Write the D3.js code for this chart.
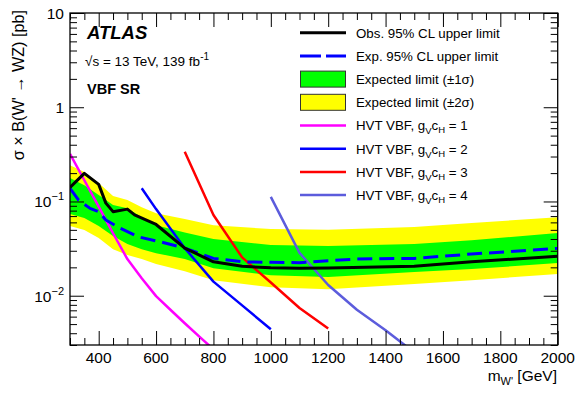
<!DOCTYPE html>
<html><head><meta charset="utf-8">
<script src="https://cdn.jsdelivr.net/npm/d3@7"></script>
<style>
body{margin:0;background:#fff;}
text{font-family:"Liberation Sans",Arial,Helvetica,sans-serif;}
</style></head>
<body><svg id="c" width="581" height="397"></svg>
<script>
// ---- data ----
const obsMass = [300,350,400,425,450,500,525,600,700,800,900,1000,1100,1200,1500,1700,2000];
const obsLimit = [0.141,0.199,0.152,0.096,0.078,0.083,0.072,0.057,0.032,0.0229,0.0205,0.0198,0.0196,0.0197,0.0206,0.0229,0.0263];
const expMass = [300,330,370,400,425,475,540,620,700,800,900,1000,1100,1200,1300,1500,1700,2000];
const expLimit = [0.138,0.1035,0.0845,0.078,0.0635,0.052,0.042,0.037,0.032,0.0249,0.0229,0.0226,0.0224,0.0235,0.0245,0.0249,0.0277,0.0318];
const bandMass = [300,350,400,450,500,550,600,700,800,1000,1200,1500,1700,2000];
const plus2 = [0.243,0.205,0.157,0.114,0.1035,0.087,0.075,0.065,0.056,0.051,0.050,0.0535,0.059,0.068];
const plus1 = [0.177,0.149,0.117,0.092,0.085,0.068,0.056,0.047,0.040,0.0345,0.0336,0.0353,0.0389,0.0462];
const minus1 = [0.0735,0.0666,0.0548,0.0429,0.0353,0.0312,0.0283,0.0245,0.0196,0.0165,0.0158,0.0178,0.0192,0.0222];
const minus2 = [0.0548,0.0497,0.0409,0.0312,0.0270,0.0245,0.0217,0.0182,0.0146,0.0123,0.0117,0.0133,0.0146,0.0170];
const hvt1Mass = [300,350,400,450,500,550,600,650,700,750,800];
const hvt1 = [0.32,0.168,0.088,0.046,0.0245,0.0153,0.0099,0.0071,0.0051,0.0037,0.0027];
const hvt2Mass = [550,600,700,800,900,1000];
const hvt2 = [0.138,0.083,0.032,0.0141,0.0079,0.0044];
const hvt3Mass = [700,800,900,1000,1100,1200];
const hvt3 = [0.337,0.0718,0.0255,0.0138,0.0074,0.0045];
const hvt4Mass = [1000,1100,1200,1300,1400,1500];
const hvt4 = [0.112,0.0285,0.0130,0.0071,0.0043,0.0025];
const xTickLabels = [400,600,800,1000,1200,1400,1600,1800,2000];
const yDecades = [0.01,0.1,1,10];
const yDecadeLabels = [["10","−2"],["10","−1"],["1",""],["10",""]];

// ---- setup ----
const svg = d3.select("#c");
const L=70, R=557.7, T=13, B=345;
const x = d3.scaleLinear().domain([300,2000]).range([L,R]);
const y = d3.scaleLog().domain([0.003,10]).range([B,T]);

svg.append("clipPath").attr("id","clip").append("rect")
  .attr("x",L).attr("y",T).attr("width",R-L).attr("height",B-T);
const plot = svg.append("g").attr("clip-path","url(#clip)");

function band(lo,hi,color){
  const d = bandMass.map((m,i)=>({m,lo:lo[i],hi:hi[i]}));
  plot.append("path").datum(d)
    .attr("d", d3.area().x(p=>x(p.m)).y0(p=>y(p.lo)).y1(p=>y(p.hi)))
    .attr("fill",color).attr("stroke","none");
}
band(minus2,plus2,"#ffff00");
band(minus1,plus1,"#00ff00");

function curve(ms,vs,color,w,dash){
  const p = plot.append("path").datum(ms.map((m,i)=>[m,vs[i]]))
    .attr("d", d3.line().x(p=>x(p[0])).y(p=>y(p[1])))
    .attr("fill","none").attr("stroke",color).attr("stroke-width",w)
    .attr("stroke-linejoin","round");
  if(dash) p.attr("stroke-dasharray",dash);
}
curve(hvt1Mass,hvt1,"#ff00ff",2.5);
curve(hvt2Mass,hvt2,"#0000ff",2.5);
curve(hvt3Mass,hvt3,"#ff0000",2.5);
curve(hvt4Mass,hvt4,"#5c5cdc",2.5);
curve(expMass,expLimit,"#0000ff",3,"15,7");
curve(obsMass,obsLimit,"#000000",3);

// ---- axes ----
const axG = svg.append("g");
const xMinor = d3.range(300,2001,50).filter(v=>v%200!==0);
const xMajor = d3.range(400,2001,200);
axG.append("g").attr("transform",`translate(0,${B})`)
  .call(d3.axisBottom(x).tickValues(xMinor).tickSize(-7).tickFormat(""));
axG.append("g").attr("transform",`translate(0,${B})`)
  .call(d3.axisBottom(x).tickValues(xMajor).tickSize(-14).tickFormat(""));
axG.append("g").attr("transform",`translate(0,${T})`)
  .call(d3.axisTop(x).tickValues(xMinor).tickSize(-7).tickFormat(""));
axG.append("g").attr("transform",`translate(0,${T})`)
  .call(d3.axisTop(x).tickValues(xMajor).tickSize(-14).tickFormat(""));
const yMinor = [];
[0.001,0.01,0.1,1].forEach(d=>{for(let k=2;k<=9;k++){const v=d*k; if(v>=0.003 && v<10) yMinor.push(v);}});
axG.append("g").attr("transform",`translate(${L},0)`)
  .call(d3.axisLeft(y).tickValues(yMinor).tickSize(-7).tickFormat(""));
axG.append("g").attr("transform",`translate(${L},0)`)
  .call(d3.axisLeft(y).tickValues(yDecades).tickSize(-14).tickFormat(""));
axG.append("g").attr("transform",`translate(${R},0)`)
  .call(d3.axisRight(y).tickValues(yMinor).tickSize(-7).tickFormat(""));
axG.append("g").attr("transform",`translate(${R},0)`)
  .call(d3.axisRight(y).tickValues(yDecades).tickSize(-14).tickFormat(""));
axG.selectAll(".domain").remove();
axG.selectAll("line").attr("stroke","#000").attr("stroke-width",1);
svg.append("rect").attr("x",L).attr("y",T).attr("width",R-L).attr("height",B-T)
  .attr("fill","none").attr("stroke","#000").attr("stroke-width",1.3);

// tick labels
svg.append("g").selectAll("text").data(xTickLabels).join("text")
  .attr("x",d=>x(d)).attr("y",B+18).attr("text-anchor","middle")
  .attr("font-size",15.5).text(d=>d);
const yl = svg.append("g").selectAll("text").data(yDecades).join("text")
  .attr("x",L-6).attr("y",(d)=>y(d)+6).attr("text-anchor","end").attr("font-size",15.5);
yl.each(function(d,i){
  const t=d3.select(this), lab=yDecadeLabels[i];
  t.append("tspan").text(lab[0]);
  if(lab[1]) t.append("tspan").attr("dy",-7).attr("font-size",11).text(lab[1]);
});

// axis titles
const yt = svg.append("text").attr("transform","translate(24,10) rotate(-90)")
  .attr("text-anchor","end").attr("font-size",16.2);
yt.text("σ × B(W' → WZ) [pb]");
const xt = svg.append("text").attr("x",557).attr("y",381).attr("text-anchor","end").attr("font-size",15.5);
xt.append("tspan").text("m");
xt.append("tspan").attr("dy",4).attr("font-size",11).text("W'");
xt.append("tspan").attr("dy",-4).text(" [GeV]");

// ATLAS labels
svg.append("text").attr("x",87).attr("y",39).attr("font-size",18.5)
  .attr("font-weight","bold").attr("font-style","italic").text("ATLAS");
const en = svg.append("text").attr("x",85).attr("y",66).attr("font-size",13.5);
en.append("tspan").text("√s = 13 TeV, 139 fb");
en.append("tspan").attr("dy",-6).attr("font-size",10).text("-1");
svg.append("text").attr("x",87).attr("y",94).attr("font-size",14.5).attr("font-weight","bold").text("VBF SR");

// ---- legend ----
const legendItems = [
  {type:"line",color:"#000",w:3,label:["Obs. 95% CL upper limit"]},
  {type:"line",color:"#0000ff",w:3,dash:"21,5",label:["Exp. 95% CL upper limit"]},
  {type:"box",color:"#00ff00",label:["Expected limit (±1σ)"]},
  {type:"box",color:"#ffff00",label:["Expected limit (±2σ)"]},
  {type:"line",color:"#ff00ff",w:2.5,label:["HVT VBF, g","V","c","H"," = 1"]},
  {type:"line",color:"#0000ff",w:2.5,label:["HVT VBF, g","V","c","H"," = 2"]},
  {type:"line",color:"#ff0000",w:2.5,label:["HVT VBF, g","V","c","H"," = 3"]},
  {type:"line",color:"#5c5cdc",w:2.5,label:["HVT VBF, g","V","c","H"," = 4"]}
];
const lg = svg.append("g");
legendItems.forEach((it,i)=>{
  const cy = 32.7 + i*23.2;
  if(it.type==="line"){
    const l = lg.append("line").attr("x1",300).attr("x2",346).attr("y1",cy).attr("y2",cy)
      .attr("stroke",it.color).attr("stroke-width",it.w);
    if(it.dash) l.attr("stroke-dasharray",it.dash);
  } else {
    lg.append("rect").attr("x",300.5).attr("y",cy-8).attr("width",45).attr("height",16)
      .attr("fill",it.color).attr("stroke","#333").attr("stroke-width",1);
  }
  const t = lg.append("text").attr("x",356).attr("y",cy+4.8).attr("font-size",13.3);
  if(it.label.length===1){ t.text(it.label[0]); }
  else {
    t.append("tspan").text(it.label[0]);
    t.append("tspan").attr("dy",4).attr("font-size",9.5).text(it.label[1]);
    t.append("tspan").attr("dy",-4).text(it.label[2]);
    t.append("tspan").attr("dy",3).attr("font-size",9.5).text(it.label[3]);
    t.append("tspan").attr("dy",-3).text(it.label[4]);
  }
});
</script>
</body></html>
